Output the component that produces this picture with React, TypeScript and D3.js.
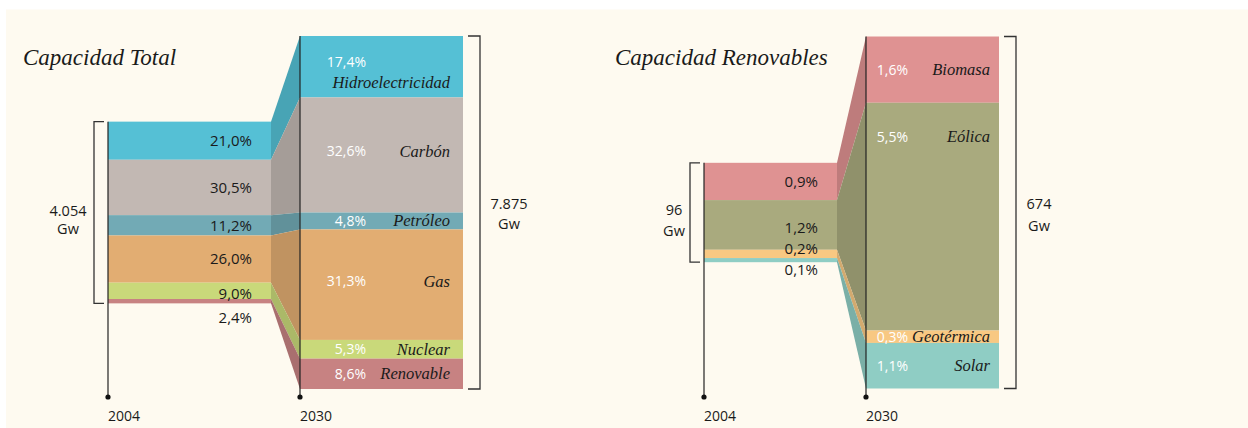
import React from 'react';
import * as d3 from 'd3';

// Capacidad total (% of each year's total)
const totalCats = ['Hidroelectricidad', 'Carbón', 'Petróleo', 'Gas', 'Nuclear', 'Renovable'];
const total2004 = [21.0, 30.5, 11.2, 26.0, 9.0, 2.4];
const total2030 = [17.4, 32.6, 4.8, 31.3, 5.3, 8.6];
const totalGw = [4054, 7875];
const totalColors = ['#55c0d5', '#c2b8b3', '#72aab5', '#e2ad72', '#c9d97a', '#c78282'];

// Capacidad renovables (% of total capacity)
const renewCats = ['Biomasa', 'Eólica', 'Geotérmica', 'Solar'];
const renew2004 = [0.9, 1.2, 0.2, 0.1];
const renew2030 = [1.6, 5.5, 0.3, 1.1];
const renewGw = [96, 674];
const renewColors = ['#df9292', '#a9aa7e', '#f8c882', '#8fcdc4'];

const years = ['2004', '2030'];

const es = d3.formatLocale({ decimal: ',', thousands: '.', grouping: [3], currency: ['', ' €'] });
const fmtPct = (v: number) => es.format('.1f')(v) + '%';
const fmtGw = es.format(',d');

const SANS = '"Open Sans", sans-serif';
const SERIF = '"Liberation Serif", serif';
const CY = 212.5;
const AXIS_BOTTOM = 397;

const numWidth = (s: string) => s.replace(/[^0-9]/g, '').length * 8 + s.replace(/[0-9]/g, '').length * 4;

type Seg = { cat: string; v: number; y0: number; y1: number; color: string };

function stack(cats: string[], vals: number[], colors: string[], h: number): Seg[] {
  const sum = d3.sum(vals);
  const top = CY - h / 2;
  let acc = 0;
  return vals.map((v, i) => {
    const y0 = top + (acc / sum) * h;
    acc += v;
    return { cat: cats[i], v, y0, y1: top + (acc / sum) * h, color: colors[i] };
  });
}

const band = d3.area<{ x: number; y0: number; y1: number }>()
  .x(d => d.x).y0(d => d.y0).y1(d => d.y1);

function Panel({ title, titleX, x0, barW, gap, cats, a, b, colors, gw, h, nameInset, pctEnd, belowGap, gwL, gwR }: any) {
  const segA: Seg[] = stack(cats, a, colors, h[0]);
  const segB: Seg[] = stack(cats, b, colors, h[1]);
  const xA = x0, xB = x0 + barW + gap;
  const topA = segA[0].y0, botA = segA[segA.length - 1].y1;
  const topB = segB[0].y0, botB = segB[segB.length - 1].y1;
  const brL = xA - 14, brR = xB + barW + 17;

  // 2004 labels: centered; thin segments sit on their top edge, last thin one below the bar
  const labA = segA.map((s, i) => {
    const hh = s.y1 - s.y0;
    if (hh < 8 && i === segA.length - 1) return s.y1 + belowGap;
    if (hh < 12) return s.y0 - 1;
    return (s.y0 + s.y1) / 2 + (hh < 60 && i > 0 && segA[i + 1] && segA[i + 1].y1 - segA[i + 1].y0 < 12 ? 3 : 0);
  });

  const gwA = fmtGw(gw[0]), gwB = fmtGw(gw[1]);
  const cxA = brL - 8 - numWidth(gwA) / 2;
  const cxB = brR + 11 + numWidth(gwB) / 2;

  return (
    <g>
      <text x={titleX} y={65} fontFamily={SERIF} fontStyle="italic" fontSize={23} fill="#1a1a1a">{title}</text>
      {segA.map((s, i) => (
        <path key={'c' + i} fill={d3.color(s.color)!.darker(0.45).toString()}
          d={band([{ x: xA + barW, y0: s.y0, y1: s.y1 }, { x: xB, y0: segB[i].y0, y1: segB[i].y1 }])!} />
      ))}
      {segA.map((s, i) => (
        <rect key={'a' + i} x={xA} y={s.y0} width={barW} height={s.y1 - s.y0} fill={s.color} />
      ))}
      {segB.map((s, i) => (
        <rect key={'b' + i} x={xB} y={s.y0} width={barW} height={s.y1 - s.y0} fill={s.color} />
      ))}
      {/* year axes */}
      {[[xA, topA], [xB, topB]].map(([x, t], i) => (
        <g key={'ax' + i}>
          <line x1={x} x2={x} y1={t} y2={AXIS_BOTTOM} stroke="#222" strokeWidth={1.2} />
          <circle cx={x} cy={AXIS_BOTTOM} r={2.6} fill="#111" />
          <text x={x} y={421} fontFamily={SANS} fontSize={14} fill="#1a1a1a">{years[i]}</text>
        </g>
      ))}
      {/* brackets */}
      <path d={`M${brL + 10},${topA}H${brL}V${botA}H${brL + 10}`} fill="none" stroke="#333" strokeWidth={1.3} />
      <path d={`M${brR - 12},${topB}H${brR}V${botB}H${brR - 12}`} fill="none" stroke="#333" strokeWidth={1.3} />
      <text x={cxA} y={CY + gwL[0]} textAnchor="middle" fontFamily={SANS} fontSize={14.5} fill="#1a1a1a">{gwA}</text>
      <text x={cxA} y={CY + gwL[1]} textAnchor="middle" fontFamily={SANS} fontSize={14.5} fill="#1a1a1a">Gw</text>
      <text x={cxB} y={CY + gwR[0]} textAnchor="middle" fontFamily={SANS} fontSize={14.5} fill="#1a1a1a">{gwB}</text>
      <text x={cxB} y={CY + gwR[1]} textAnchor="middle" fontFamily={SANS} fontSize={14.5} fill="#1a1a1a">Gw</text>
      {/* 2004 labels */}
      {segA.map((s, i) => (
        <text key={'la' + i} x={xA + barW - 19} y={labA[i]} dy="0.36em" textAnchor="end"
          fontFamily={SANS} fontSize={15} fill="#1a1a1a">{fmtPct(s.v)}</text>
      ))}
      {/* 2030 labels */}
      {segB.map((s, i) => {
        const hh = s.y1 - s.y0;
        let yp = (s.y0 + s.y1) / 2, yn = yp;
        if (hh > 150) { yp = yn = s.y0 + 34; }
        else if (s.cat.length > 14) { yp = yp - 5; yn = yp + 21; }
        else if (hh > 80) { yp -= 4; yn -= 3; }
        return (
          <g key={'lb' + i}>
            <text x={xB + pctEnd} y={yp} dy="0.36em" textAnchor="end" fontFamily={SANS} fontSize={14} fill="#fff">{fmtPct(s.v)}</text>
            <text x={xB + barW - nameInset} y={yn} dy="0.32em" textAnchor="end" fontFamily={SERIF} fontStyle="italic" fontSize={16.5} fill="#1a1a1a">{s.cat}</text>
          </g>
        );
      })}
    </g>
  );
}

export default function App() {
  const yTotal = d3.scaleLinear().domain([0, 7875]).range([0, 353]);
  const yRenew = d3.scaleLinear().domain([0, 8.5]).range([0, 352]);
  return (
    <svg width={1248} height={428} style={{ position: 'absolute', left: 0, top: 0 }}>
      <rect width={1248} height={428} fill="#fff" />
      <rect x={6} y={9.5} width={1242} height={420} fill="#fefaf0" />
      <Panel title="Capacidad Total" titleX={23} x0={108} barW={163} gap={29}
        cats={totalCats} a={total2004} b={total2030} colors={totalColors} gw={totalGw}
        h={[yTotal(totalGw[0]), yTotal(totalGw[1])]} nameInset={13} pctEnd={66}
        belowGap={14} gwL={[3, 21]} gwR={[-4, 16]} />
      <Panel title="Capacidad Renovables" titleX={615} x0={704} barW={133} gap={29}
        cats={renewCats} a={renew2004} b={renew2030} colors={renewColors} gw={renewGw}
        h={[yRenew(d3.sum(renew2004)), yRenew(d3.sum(renew2030))]} nameInset={9} pctEnd={42}
        belowGap={7} gwL={[2.5, 23.5]} gwR={[-3.5, 18.5]} />
    </svg>
  );
}
